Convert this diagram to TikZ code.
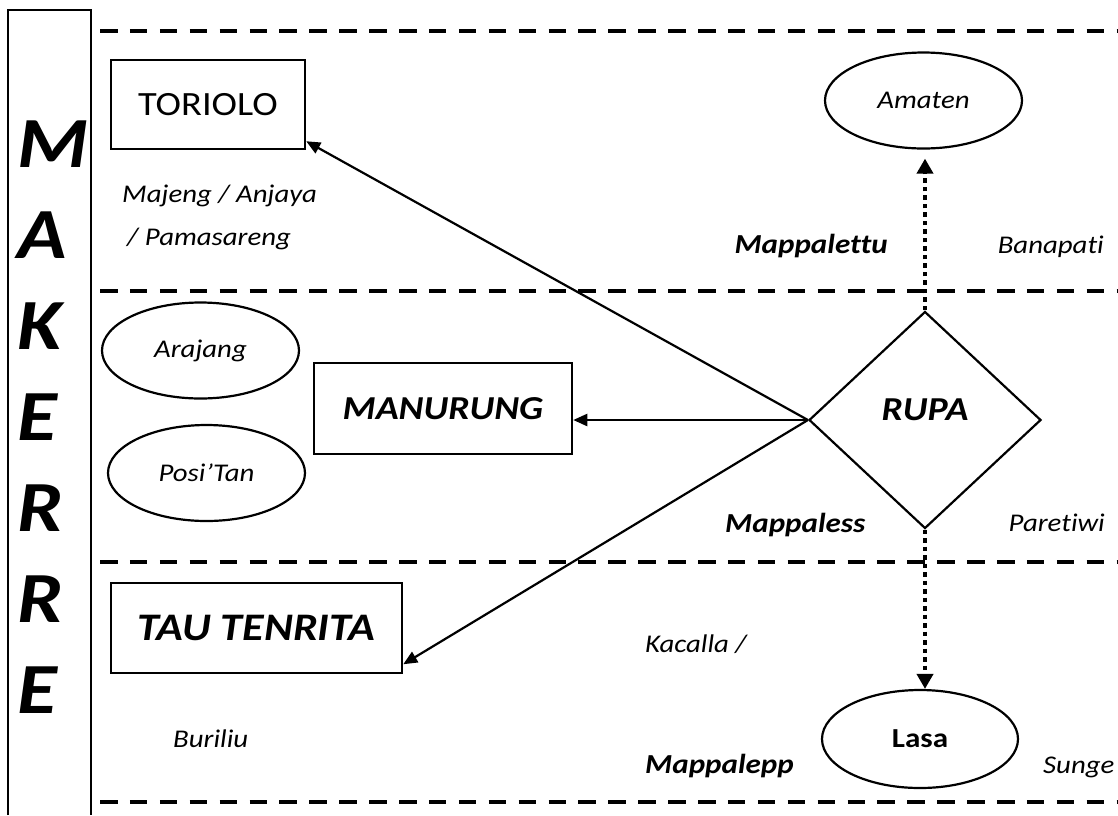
\documentclass[tikz,border=0pt]{standalone}
\usepackage{fontspec}
\setmainfont{Carlito}[FakeStretch=1.13, Ligatures={NoCommon}]
\usetikzlibrary{shapes.geometric,arrows.meta}

\begin{document}
\begin{tikzpicture}[x=1pt,y=-1pt,
  frameline/.style={line width=2.5pt},
  lane/.style={line width=4.5pt, dash pattern=on 17.5pt off 12.4pt},
  box/.style={draw, rectangle, line width=2.5pt, inner sep=0pt},
  oval/.style={draw, ellipse, line width=2.2pt, inner sep=0pt,
               minimum width=197pt, minimum height=96pt},
  ovaltext/.style={font=\fontsize{25.5}{30}\selectfont\itshape},
  lab/.style={inner sep=0pt, anchor=base west, font=\fontsize{25.5}{30}\selectfont\itshape},
  labb/.style={inner sep=0pt, anchor=base west, font=\fontsize{27.5}{32}\selectfont\bfseries\itshape},
  bigbi/.style={font=\fontsize{33.5}{40}\selectfont\bfseries\itshape},
  vletter/.style={inner sep=0pt, anchor=base west, font=\fontsize{72}{80}\selectfont\bfseries\itshape},
  solidarrow/.style={line width=2.2pt, -{Triangle[length=14pt,width=12pt]}},
  dotarrow/.style={line width=4.3pt, dash pattern=on 4.5pt off 4pt,
                   -{Triangle[length=15pt,width=16pt]}}
]
\useasboundingbox (0,0) rectangle (1118,815);

% left frame with the vertical word
\draw[frameline] (8,815) -- (8,10) -- (91,10) -- (91,815);
\foreach \ch [count=\i from 0] in {M,A,K,E,R,R,E}
  \node[vletter] (mk\i) at (17,{167+91*\i}) {\ch};

% horizontal bands
\foreach \yy in {31,291,562,802}
  \draw[lane] (100,\yy) -- (1118,\yy);

% upper band
\node[box, minimum width=194pt, minimum height=89pt,
      font=\fontsize{34}{40}\selectfont] (toriolo) at (208,104.5) {TORIOLO};
\node[lab] (majeng) at (122,202) {Majeng / Anjaya};
\node[lab] (pamasareng) at (127,245) {/ Pamasareng};
\node[oval, ovaltext] (amaten) at (923.5,100.5) {Amaten};
\node[labb, anchor=base east] (mappalettu) at (888,253) {Mappalettu};
\node[lab, anchor=base east] (banapati) at (1104,253) {Banapati};

% middle band
\node[oval, ovaltext] (arajang) at (200.5,350.5) {Arajang};
\node[oval, ovaltext] (positan) at (206.5,473) {Posi’Tan};
\node[box, bigbi, minimum width=258pt, minimum height=91pt] (manurung) at (443,408.5) {MANURUNG};
\node[draw, diamond, line width=2.2pt, inner sep=0pt,
      minimum width=232pt, minimum height=217pt,
      label={[bigbi, yshift=10pt]center:RUPA}] (rupa) at (925,420) {};
\node[labb] (mappaless) at (725,532) {Mappaless};
\node[lab, anchor=base east] (paretiwi) at (1105,531) {Paretiwi};

% lower band
\node[box, font=\fontsize{39}{44}\selectfont\bfseries\itshape,
      minimum width=291pt, minimum height=90pt] (tautenrita) at (256.5,628) {TAU TENRITA};
\node[lab] (buriliu) at (173,747) {Buriliu};
\node[lab] (kacalla) at (645,652) {Kacalla /};
\node[labb] (mappalepp) at (645,773) {Mappalepp};
\node[oval, minimum width=196pt, minimum height=98pt,
      font=\fontsize{27.5}{32}\selectfont\bfseries] (lasa) at (920,739) {Lasa};
\node[lab] (sunge) at (1043,773) {Sunge};

% connectors
\draw[solidarrow] (rupa.west) -- ([yshift=9pt]toriolo.south east);
\draw[solidarrow] (rupa.west) -- (rupa.west -| manurung.east);
\draw[solidarrow] (rupa.west) -- ([yshift=10pt]tautenrita.south east);
\draw[dotarrow] (rupa.north) -- ([yshift=-9pt]rupa.north |- amaten.south);
\draw[dotarrow] (rupa.south) -- (rupa.south |- lasa.north);
\end{tikzpicture}
\end{document}
